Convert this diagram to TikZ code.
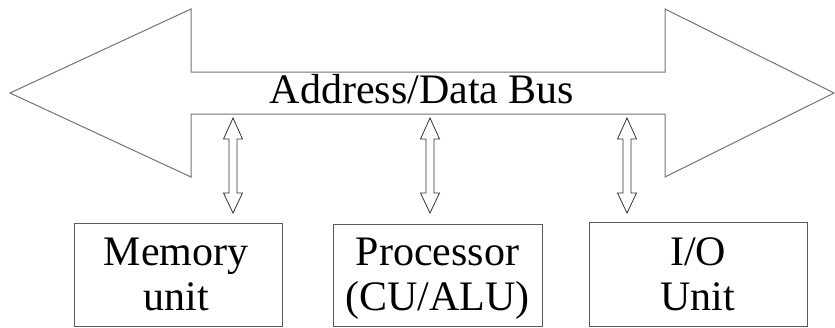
\documentclass[tikz,border=0pt]{standalone}
\usepackage{fontspec}
\setmainfont{Liberation Serif}
\begin{document}
\begin{tikzpicture}[x=1pt,y=-1pt,
  busline/.style={draw=black!55,line width=1pt},
  unitbox/.style={draw=black!65,line width=1pt},
  dblarrow/.style={draw=black!80,line width=0.8pt,fill=white},
  lbl/.style={font=\fontsize{42}{46}\selectfont,align=center,inner sep=0pt}]
\useasboundingbox (0,0) rectangle (835,327);
% bus arrow
\draw[busline] (10,93) -- (191,9) -- (191,72) -- (665,72) -- (665,9) -- (834,93)
  -- (665,177) -- (665,114) -- (191,114) -- (191,177) -- cycle;
\node[lbl,anchor=base] (bus) at (422,103) {Address/Data Bus};
% boxes
\draw[unitbox] (74,223) rectangle (282,326);
\draw[unitbox] (333,224) rectangle (542,326);
\draw[unitbox] (589,222) rectangle (807,326);
\node[lbl,anchor=base] (mem) at (176,265) {Memory};
\node[lbl,anchor=base] (memb) at (176,310) {unit};
\node[lbl,anchor=base] (proc) at (437.5,265) {Processor};
\node[lbl,anchor=base] (procb) at (437.5,310) {(CU/ALU)};
\node[lbl,anchor=base] (io) at (698,265) {I/O};
\node[lbl,anchor=base] (iob) at (698,310) {Unit};
% double arrows
\foreach \cx/\nm in {233/a1,430/a2,627/a3}{
  \coordinate (\nm t) at (\cx,118);
  \coordinate (\nm b) at (\cx,213);
  \draw[dblarrow] (\nm t) -- ++(9.5,21) -- ++(-5.5,0) -- ++(0,54) -- ++(5.5,0)
    -- (\nm b) -- ++(-9.5,-20) -- ++(5.5,0) -- ++(0,-54) -- ++(-5.5,0) -- cycle;
}
\end{tikzpicture}
\end{document}
